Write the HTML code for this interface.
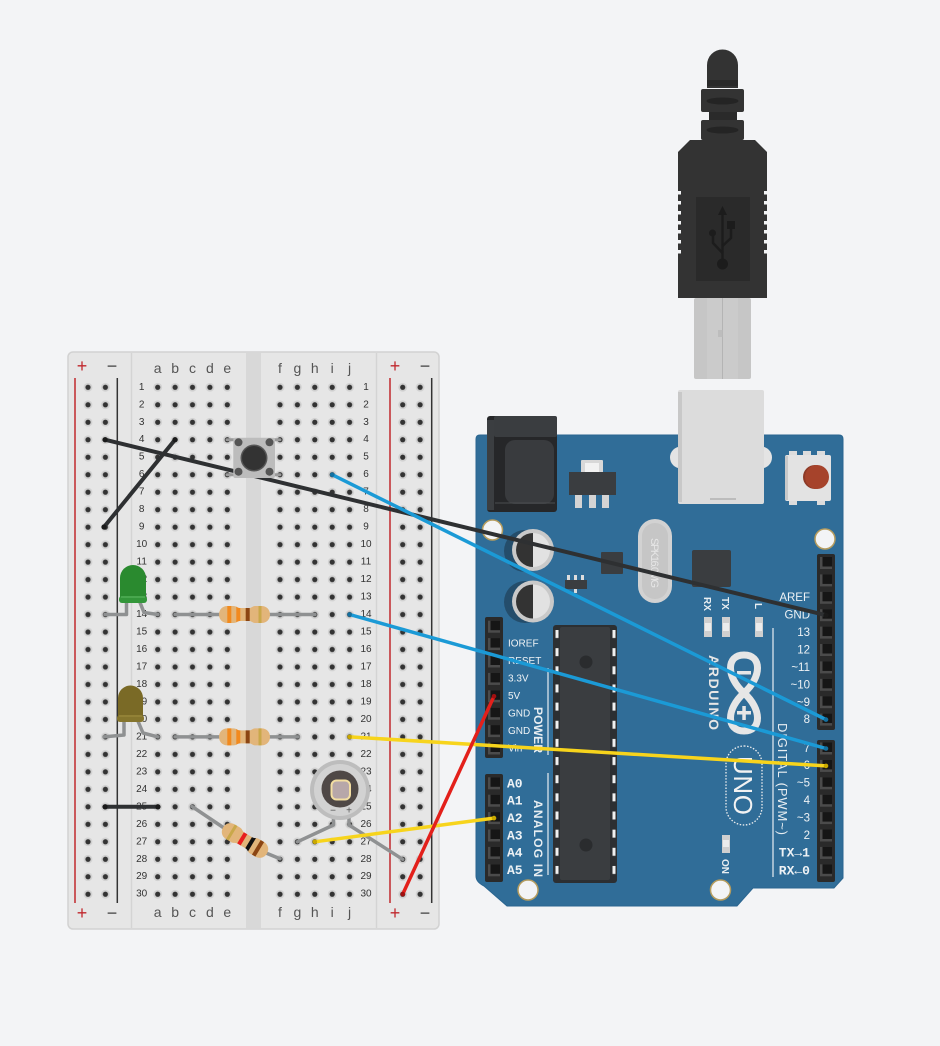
<!DOCTYPE html>
<html><head><meta charset="utf-8"><style>
html,body{margin:0;padding:0;background:#f3f4f6;}
svg{display:block;}
</style></head><body>
<svg width="940" height="1046" viewBox="0 0 940 1046" xmlns="http://www.w3.org/2000/svg" font-family="'Liberation Sans', sans-serif">
<defs>
  <pattern id="holeA" patternUnits="userSpaceOnUse" x="149" y="378.56" width="17.4" height="17.48"><circle cx="8.7" cy="8.74" r="4.4" fill="#d1d1d1"/><circle cx="8.7" cy="8.74" r="2.6" fill="#333"/></pattern>
  <pattern id="holeF" patternUnits="userSpaceOnUse" x="271.3" y="378.56" width="17.4" height="17.48"><circle cx="8.7" cy="8.74" r="4.4" fill="#d1d1d1"/><circle cx="8.7" cy="8.74" r="2.6" fill="#333"/></pattern>
  <pattern id="holeL" patternUnits="userSpaceOnUse" x="79.3" y="378.56" width="17.4" height="17.48"><circle cx="8.7" cy="8.74" r="4.4" fill="#d1d1d1"/><circle cx="8.7" cy="8.74" r="2.6" fill="#333"/></pattern>
  <pattern id="holeR" patternUnits="userSpaceOnUse" x="394" y="378.56" width="17.4" height="17.48"><circle cx="8.7" cy="8.74" r="4.4" fill="#d1d1d1"/><circle cx="8.7" cy="8.74" r="2.6" fill="#333"/></pattern>
  <pattern id="chippin" patternUnits="userSpaceOnUse" x="555" y="630" width="61" height="18.15"><rect x="0.5" y="0" width="3" height="8" fill="#f0f0f0"/><rect x="57.5" y="0" width="3" height="8" fill="#f0f0f0"/></pattern>
  <g id="pin"><rect x="-6" y="-6" width="12" height="12" fill="#4b4b4b"/><rect x="-3.5" y="-6" width="9.5" height="9.5" fill="#161616"/></g>
  <clipPath id="resclip"><path d="M-25.5 0 C-25.5 -5 -22 -8.5 -17 -8.5 L-11 -8.5 C-8 -8.5 -7 -6.5 -5 -6.5 L5 -6.5 C7 -6.5 8 -8.5 11 -8.5 L17 -8.5 C22 -8.5 25.5 -5 25.5 0 C25.5 5 22 8.5 17 8.5 L11 8.5 C8 8.5 7 6.5 5 6.5 L-5 6.5 C-7 6.5 -8 8.5 -11 8.5 L-17 8.5 C-22 8.5 -25.5 5 -25.5 0 Z"/></clipPath>
  <g id="resA">
    <g clip-path="url(#resclip)">
      <rect x="-26" y="-9" width="52" height="18" fill="#e2b57a"/>
      <rect x="-17.2" y="-9" width="4" height="18" fill="#f28a1e"/>
      <rect x="-8.2" y="-9" width="4" height="18" fill="#f28a1e"/>
      <rect x="1.2" y="-9" width="4" height="18" fill="#8b4513"/>
      <rect x="14" y="-9" width="3" height="18" fill="#c9a84a"/>
    </g>
  </g>
  <g id="resB">
    <g clip-path="url(#resclip)">
      <rect x="-26" y="-9" width="52" height="18" fill="#e2b57a"/>
      <rect x="-17" y="-9" width="3" height="18" fill="#c9a84a"/>
      <rect x="-5.2" y="-9" width="4" height="18" fill="#e81e1e"/>
      <rect x="4.2" y="-9" width="4" height="18" fill="#111"/>
      <rect x="13.2" y="-9" width="4" height="18" fill="#8b4513"/>
    </g>
  </g>
</defs>

<rect width="940" height="1046" fill="#f3f4f6"/>

<!-- ================= BREADBOARD ================= -->
<rect x="68" y="352" width="371" height="577" rx="5" fill="#e6e6e6" stroke="#d2d2d2" stroke-width="1.5"/>
<rect x="246" y="353" width="15" height="575" fill="#d8d8d8"/>
<line x1="131.5" y1="353" x2="131.5" y2="928" stroke="#d4d4d4" stroke-width="1.5"/>
<line x1="376.5" y1="353" x2="376.5" y2="928" stroke="#d4d4d4" stroke-width="1.5"/>
<line x1="75" y1="378" x2="75" y2="903" stroke="#c0282d" stroke-width="1.5"/>
<line x1="117.3" y1="378" x2="117.3" y2="903" stroke="#333" stroke-width="1.5"/>
<line x1="390" y1="378" x2="390" y2="903" stroke="#c0282d" stroke-width="1.5"/>
<line x1="431.7" y1="378" x2="431.7" y2="903" stroke="#333" stroke-width="1.5"/>

<rect x="149" y="378.56" width="87" height="524.4" fill="url(#holeA)"/>
<rect x="271.3" y="378.56" width="87" height="524.4" fill="url(#holeF)"/>
<rect x="79.3" y="378.56" width="34.8" height="524.4" fill="url(#holeL)"/>
<rect x="394" y="378.56" width="34.8" height="524.4" fill="url(#holeR)"/>

<g font-size="18" text-anchor="middle" dominant-baseline="central">
  <text x="82" y="366" fill="#c0282d">+</text><text x="112" y="366" fill="#444">−</text>
  <text x="395" y="366" fill="#c0282d">+</text><text x="425" y="366" fill="#444">−</text>
  <text x="82" y="913" fill="#c0282d">+</text><text x="112" y="913" fill="#444">−</text>
  <text x="395" y="913" fill="#c0282d">+</text><text x="425" y="913" fill="#444">−</text>
</g>
<g font-size="14" text-anchor="middle" dominant-baseline="central" fill="#555">
  <text x="157.7" y="368">a</text><text x="175.1" y="368">b</text><text x="192.5" y="368">c</text><text x="209.9" y="368">d</text><text x="227.3" y="368">e</text>
  <text x="280" y="368">f</text><text x="297.4" y="368">g</text><text x="314.8" y="368">h</text><text x="332.2" y="368">i</text><text x="349.6" y="368">j</text>
  <text x="157.7" y="912">a</text><text x="175.1" y="912">b</text><text x="192.5" y="912">c</text><text x="209.9" y="912">d</text><text x="227.3" y="912">e</text>
  <text x="280" y="912">f</text><text x="297.4" y="912">g</text><text x="314.8" y="912">h</text><text x="332.2" y="912">i</text><text x="349.6" y="912">j</text>
</g>
<g font-size="10" text-anchor="middle" dominant-baseline="central" fill="#333">
  <text x="141.7" y="387.3">1</text><text x="141.7" y="404.8">2</text><text x="141.7" y="422.3">3</text><text x="141.7" y="439.7">4</text><text x="141.7" y="457.2">5</text>
  <text x="141.7" y="474.7">6</text><text x="141.7" y="492.2">7</text><text x="141.7" y="509.7">8</text><text x="141.7" y="527.1">9</text><text x="141.7" y="544.6">10</text>
  <text x="141.7" y="562.1">11</text><text x="141.7" y="579.6">12</text><text x="141.7" y="597.1">13</text><text x="141.7" y="614.5">14</text><text x="141.7" y="632">15</text>
  <text x="141.7" y="649.5">16</text><text x="141.7" y="667">17</text><text x="141.7" y="684.5">18</text><text x="141.7" y="701.9">19</text><text x="141.7" y="719.4">20</text>
  <text x="141.7" y="736.9">21</text><text x="141.7" y="754.4">22</text><text x="141.7" y="771.9">23</text><text x="141.7" y="789.3">24</text><text x="141.7" y="806.8">25</text>
  <text x="141.7" y="824.3">26</text><text x="141.7" y="841.8">27</text><text x="141.7" y="859.3">28</text><text x="141.7" y="876.7">29</text><text x="141.7" y="894.2">30</text>
  <text x="366" y="387.3">1</text><text x="366" y="404.8">2</text><text x="366" y="422.3">3</text><text x="366" y="439.7">4</text><text x="366" y="457.2">5</text>
  <text x="366" y="474.7">6</text><text x="366" y="492.2">7</text><text x="366" y="509.7">8</text><text x="366" y="527.1">9</text><text x="366" y="544.6">10</text>
  <text x="366" y="562.1">11</text><text x="366" y="579.6">12</text><text x="366" y="597.1">13</text><text x="366" y="614.5">14</text><text x="366" y="632">15</text>
  <text x="366" y="649.5">16</text><text x="366" y="667">17</text><text x="366" y="684.5">18</text><text x="366" y="701.9">19</text><text x="366" y="719.4">20</text>
  <text x="366" y="736.9">21</text><text x="366" y="754.4">22</text><text x="366" y="771.9">23</text><text x="366" y="789.3">24</text><text x="366" y="806.8">25</text>
  <text x="366" y="824.3">26</text><text x="366" y="841.8">27</text><text x="366" y="859.3">28</text><text x="366" y="876.7">29</text><text x="366" y="894.2">30</text>
</g>

<!-- ================= USB CABLE ================= -->
<path d="M707 88 L707 65 A15.5 15.5 0 0 1 738 65 L738 88 Z" fill="#333"/>
<rect x="707" y="80" width="31" height="6" fill="#292929"/>
<rect x="701" y="89" width="43" height="23" rx="2" fill="#333"/>
<ellipse cx="722.5" cy="101" rx="16" ry="3.5" fill="#242424"/>
<rect x="709" y="112" width="28" height="9" fill="#2a2a2a"/>
<rect x="701" y="120" width="43" height="20" rx="2" fill="#333"/>
<ellipse cx="722.5" cy="130" rx="16" ry="3.5" fill="#242424"/>
<path d="M690 140 L755 140 L767 152 L767 298 L678 298 L678 152 Z" fill="#333"/>
<g fill="#f3f4f6">
  <rect x="678" y="191" width="3" height="3.5"/><rect x="678" y="201" width="3" height="3.5"/><rect x="678" y="211" width="3" height="3.5"/><rect x="678" y="221" width="3" height="3.5"/><rect x="678" y="230" width="3" height="3.5"/><rect x="678" y="240" width="3" height="3.5"/><rect x="678" y="250" width="3" height="3.5"/>
  <rect x="764" y="191" width="3" height="3.5"/><rect x="764" y="201" width="3" height="3.5"/><rect x="764" y="211" width="3" height="3.5"/><rect x="764" y="221" width="3" height="3.5"/><rect x="764" y="230" width="3" height="3.5"/><rect x="764" y="240" width="3" height="3.5"/><rect x="764" y="250" width="3" height="3.5"/>
</g>
<rect x="696" y="197" width="54" height="84" fill="#2a2a2a"/>
<g fill="#1c1c1c" stroke="#1c1c1c">
  <line x1="722.5" y1="212" x2="722.5" y2="263" stroke-width="2.5"/>
  <path d="M722.5 206 L718 215 L727 215 Z" stroke="none"/>
  <circle cx="722.5" cy="264" r="5.5" stroke="none"/>
  <polyline points="722.5,253 713,243 713,236" fill="none" stroke-width="2.5"/>
  <circle cx="712.5" cy="233" r="3.5" stroke="none"/>
  <polyline points="722.5,246 731,238 731,228" fill="none" stroke-width="2.5"/>
  <rect x="727" y="221" width="8" height="8" stroke="none"/>
</g>
<rect x="694" y="298" width="57" height="81" rx="2" fill="#c6c6c6"/>
<rect x="707" y="298" width="31" height="81" fill="#cbcbcb"/>
<line x1="722.5" y1="298" x2="722.5" y2="379" stroke="#b4b4b4" stroke-width="1"/>
<rect x="718" y="330" width="4.5" height="7" fill="#bdbdbd"/>

<!-- ================= ARDUINO ================= -->
<path d="M480 435 L839 435 Q843 435 843 439 L843 878 L834 888 L753 888 L737 906 L507 906 L484 886 Q476 882 476 876 L476 439 Q476 435 480 435 Z" fill="#306d98" stroke="#2a6590" stroke-width="1"/>

<!-- power jack -->
<rect x="487" y="416" width="70" height="96" rx="3" fill="#262729"/>
<rect x="487" y="420" width="7" height="90" fill="#3b3e41"/>
<rect x="494" y="416" width="63" height="21" rx="2" fill="#3a3d40"/>
<rect x="505" y="440" width="49" height="64" rx="10" fill="#393b3e"/>
<line x1="495" y1="503" x2="555" y2="503" stroke="#4a4d50" stroke-width="1"/>

<!-- regulator -->
<rect x="581" y="460" width="22" height="13" rx="1" fill="#d8d8d8"/>
<rect x="585" y="463" width="14" height="9" fill="#f2f2f2"/>
<rect x="569" y="472" width="47" height="23" fill="#3a3d40"/>
<rect x="575" y="495" width="7" height="13" fill="#d4d4d4"/>
<rect x="589" y="495" width="7" height="13" fill="#d4d4d4"/>
<rect x="602" y="495" width="7" height="13" fill="#d4d4d4"/>

<!-- USB port -->
<circle cx="681" cy="457.5" r="11" fill="#e4e4e4"/>
<circle cx="761" cy="457.5" r="11" fill="#e4e4e4"/>
<rect x="678" y="390" width="86" height="114" rx="2" fill="#dcdcdc"/>
<rect x="678" y="392" width="4" height="110" fill="#c8c8c8"/>
<line x1="710" y1="499" x2="736" y2="499" stroke="#a8a8a8" stroke-width="1.2"/>

<!-- reset button -->
<rect x="789" y="451" width="8" height="5" fill="#dcdcdc"/><rect x="803" y="451" width="8" height="5" fill="#dcdcdc"/><rect x="817" y="451" width="8" height="5" fill="#dcdcdc"/>
<rect x="789" y="500" width="8" height="5" fill="#dcdcdc"/><rect x="817" y="500" width="8" height="5" fill="#dcdcdc"/>
<rect x="785" y="455" width="46" height="46" rx="2" fill="#e3e3e3"/>
<rect x="785" y="456" width="3" height="44" fill="#c9c9c9"/>
<circle cx="815" cy="477" r="12" fill="#8c3a27"/>
<circle cx="817" cy="477" r="12" fill="#a6432b"/>

<!-- mounting holes -->
<g fill="#f3f4f6" stroke="#b59c5e" stroke-width="1.5">
  <circle cx="492.5" cy="530" r="10"/>
  <circle cx="825" cy="539" r="10"/>
  <circle cx="528" cy="890" r="10"/>
  <circle cx="720.5" cy="890" r="10"/>
</g>

<!-- capacitors -->
<circle cx="525" cy="551" r="21" fill="#244d6b"/>
<circle cx="533" cy="550" r="21" fill="#c9c9c9"/>
<path d="M533 533 A17 17 0 0 0 533 567 Z" fill="#333"/>
<path d="M533 533 A17 17 0 0 1 533 567 Z" fill="#e2e2e2"/>
<circle cx="525" cy="602" r="21" fill="#244d6b"/>
<circle cx="533" cy="601.5" r="21" fill="#c9c9c9"/>
<path d="M533 584.5 A17 17 0 0 0 533 618.5 Z" fill="#333"/>
<path d="M533 584.5 A17 17 0 0 1 533 618.5 Z" fill="#e2e2e2"/>

<!-- small parts -->
<rect x="567" y="575" width="3" height="6" fill="#ddd"/><rect x="574" y="575" width="3" height="6" fill="#ddd"/><rect x="581" y="575" width="3" height="6" fill="#ddd"/>
<rect x="574" y="588" width="3" height="5" fill="#ddd"/>
<rect x="565" y="580" width="22" height="9" fill="#3a3d40"/>
<rect x="601" y="552" width="22" height="22" rx="1" fill="#3a3d40"/>
<rect x="638" y="519" width="34" height="84" rx="17" fill="#d2d2d2"/>
<rect x="642" y="523" width="26" height="76" rx="13" fill="#c6c6c6"/>
<text transform="translate(651,538) rotate(90)" font-size="11" fill="#e6e6e6" textLength="50">SPK16.0MG</text>
<rect x="692" y="550" width="39" height="37" rx="2" fill="#3a3d40"/>

<!-- LEDs labels -->
<g font-size="10" font-weight="bold" fill="#e8eef2">
  <text transform="translate(704,597) rotate(90)">RX</text>
  <text transform="translate(722,597) rotate(90)">TX</text>
  <text transform="translate(755,603) rotate(90)">L</text>
  <text transform="translate(722,859) rotate(90)">ON</text>
</g>
<g fill="#cfcfcf">
  <rect x="704" y="617" width="8" height="20"/><rect x="722" y="617" width="8" height="20"/><rect x="755" y="617" width="8" height="20"/>
  <rect x="722" y="835" width="8" height="18"/>
</g>
<g fill="#ececec">
  <rect x="705" y="623" width="6" height="8"/><rect x="723" y="623" width="6" height="8"/><rect x="756" y="623" width="6" height="8"/>
  <rect x="723" y="840" width="6" height="7"/>
</g>

<!-- main chip -->
<rect x="553" y="625" width="64" height="258" rx="3" fill="#2c2f32"/>
<rect x="560" y="627" width="50" height="253" rx="2" fill="#3a3d40"/>
<rect x="555" y="630" width="61" height="254" fill="url(#chippin)"/>
<circle cx="586" cy="662" r="6.5" fill="#2a2c2e"/>
<circle cx="586" cy="845" r="6.5" fill="#2a2c2e"/>

<!-- logo -->
<path d="M744 693 C762 677 762 655 744 655 C726 655 726 677 744 693 C762 709 762 731 744 731 C726 731 726 709 744 693 Z" fill="none" stroke="#e6e6e6" stroke-width="7"/>
<rect x="737" y="671" width="14" height="3.5" fill="#e6e6e6"/>
<rect x="737" y="711" width="14" height="3.5" fill="#e6e6e6"/>
<rect x="742.3" y="706" width="3.5" height="14" fill="#e6e6e6"/>
<text transform="translate(709,655) rotate(90)" font-size="14" font-weight="bold" fill="#e6e6e6" textLength="75">ARDUINO</text>
<rect x="726" y="746" width="36" height="79" rx="18" fill="none" stroke="#f0f0f0" stroke-width="1.3" stroke-dasharray="1.5 1.6"/>
<text transform="translate(734,756) rotate(90)" font-size="26" fill="#f2f2f2" textLength="59">UNO</text>
<text transform="translate(778,723) rotate(90)" font-size="13" fill="#e8eef2" textLength="112">DIGITAL (PWM~)</text>
<text transform="translate(534,707) rotate(90)" font-size="12" font-weight="bold" fill="#e8eef2" textLength="46">POWER</text>
<text transform="translate(534,800) rotate(90)" font-size="12" font-weight="bold" fill="#e8eef2" textLength="77">ANALOG IN</text>
<g stroke="#e8eef2" stroke-width="1.2">
  <line x1="773" y1="628" x2="773" y2="877"/>
  <line x1="548" y1="668" x2="548" y2="755"/>
  <line x1="548" y1="773" x2="548" y2="875"/>
</g>

<!-- headers -->
<rect x="817" y="554" width="18" height="176" rx="2" fill="#2a2a2a"/>
<rect x="817" y="740" width="18" height="142" rx="2" fill="#2a2a2a"/>
<rect x="485" y="617" width="18" height="141" rx="2" fill="#2a2a2a"/>
<rect x="485" y="774" width="18" height="108" rx="2" fill="#2a2a2a"/>
<use href="#pin" x="826" y="563"/><use href="#pin" x="826" y="580.4"/><use href="#pin" x="826" y="597.8"/><use href="#pin" x="826" y="615.2"/><use href="#pin" x="826" y="632.6"/>
<use href="#pin" x="826" y="650"/><use href="#pin" x="826" y="667.4"/><use href="#pin" x="826" y="684.8"/><use href="#pin" x="826" y="702.2"/><use href="#pin" x="826" y="719.6"/>
<use href="#pin" x="826" y="748.5"/><use href="#pin" x="826" y="765.9"/><use href="#pin" x="826" y="783.3"/><use href="#pin" x="826" y="800.7"/>
<use href="#pin" x="826" y="818.1"/><use href="#pin" x="826" y="835.5"/><use href="#pin" x="826" y="852.9"/><use href="#pin" x="826" y="870.3"/>
<use href="#pin" x="494" y="626.7"/><use href="#pin" x="494" y="644.1"/><use href="#pin" x="494" y="661.5"/><use href="#pin" x="494" y="678.9"/>
<use href="#pin" x="494" y="696.3"/><use href="#pin" x="494" y="713.7"/><use href="#pin" x="494" y="731.1"/><use href="#pin" x="494" y="748.5"/>
<use href="#pin" x="494" y="783.3"/><use href="#pin" x="494" y="800.7"/><use href="#pin" x="494" y="818.1"/><use href="#pin" x="494" y="835.5"/><use href="#pin" x="494" y="852.9"/><use href="#pin" x="494" y="870.3"/>

<g font-size="11.5" fill="#eef2f5" text-anchor="end" dominant-baseline="central">
  <text x="810" y="598">AREF</text><text x="810" y="615.5">GND</text><text x="810" y="633">13</text><text x="810" y="650.5">12</text>
  <text x="810" y="668">~11</text><text x="810" y="685.5">~10</text><text x="810" y="703">~9</text><text x="810" y="720">8</text>
  <text x="810" y="749">7</text><text x="810" y="766">~6</text><text x="810" y="783.5">~5</text><text x="810" y="801">4</text>
  <text x="810" y="818.5">~3</text><text x="810" y="836">2</text>
</g>
<g font-size="13" font-family="'Liberation Mono', monospace" font-weight="bold" fill="#eef2f5" dominant-baseline="central">
  <text x="810" y="853" text-anchor="end">TX→1</text><text x="810" y="871" text-anchor="end">RX←0</text>
  <text x="507" y="784">A0</text><text x="507" y="801">A1</text><text x="507" y="818.5">A2</text>
  <text x="507" y="836">A3</text><text x="507" y="853">A4</text><text x="507" y="870.5">A5</text>
</g>
<g font-size="10" fill="#eef2f5" dominant-baseline="central">
  <text x="508" y="644">IOREF</text><text x="508" y="661.5">RESET</text><text x="508" y="679">3.3V</text><text x="508" y="696.5">5V</text>
  <text x="508" y="714">GND</text><text x="508" y="731.5">GND</text><text x="508" y="749">Vin</text>
</g>

<!-- ================= BREADBOARD COMPONENTS ================= -->
<!-- black wires (under button) -->
<line x1="104" y1="527" x2="175" y2="439.7" stroke="#2e3032" stroke-width="4" stroke-linecap="round"/>
<line x1="105" y1="806.8" x2="158" y2="806.8" stroke="#2e3032" stroke-width="4" stroke-linecap="round"/>
<line x1="105" y1="439.7" x2="826" y2="615.2" stroke="#2e3032" stroke-width="4" stroke-linecap="round"/>

<!-- pushbutton -->
<g stroke="#9a9a9a" stroke-width="3" stroke-linecap="round">
  <line x1="227" y1="439.7" x2="235" y2="439.7"/><line x1="273" y1="439.7" x2="280" y2="439.7"/>
  <line x1="227" y1="474.7" x2="235" y2="474.7"/><line x1="273" y1="474.7" x2="280" y2="474.7"/>
</g>
<rect x="233.3" y="437.7" width="41.7" height="40.3" rx="2" fill="#bcbcbc"/>
<circle cx="254" cy="458" r="13.5" fill="#555"/>
<circle cx="254" cy="458" r="12" fill="#333"/>
<g fill="#555"><circle cx="238.5" cy="442.3" r="4"/><circle cx="269.5" cy="442.3" r="4"/><circle cx="238.5" cy="471.7" r="4"/><circle cx="269.5" cy="471.7" r="4"/></g>

<!-- leads -->
<g fill="none" stroke="#8f9192" stroke-width="3.5" stroke-linecap="round" stroke-linejoin="round">
  <polyline points="126.5,600 126.5,614.5 105,614.5"/>
  <polyline points="139,600 144,612.5 158,614.5"/>
  <polyline points="124,720 124,735 104,736.9"/>
  <polyline points="137.5,720 143,733 158,736.9"/>
  <line x1="175" y1="614.5" x2="315" y2="614.5"/>
  <line x1="175" y1="736.9" x2="298" y2="736.9"/>
  <polyline points="192,806.5 224,828 266,853 280,858.7"/>
  <polyline points="333.5,818 333.5,825 297.4,841.8"/>
  <polyline points="349,818 349,825 402.7,859.3"/>
</g>

<!-- green LED -->
<path d="M120 602 L120 578 A13 13 0 0 1 146 578 L146 602 Z" fill="#2a8a2f"/>
<rect x="119" y="596" width="28" height="7" rx="3" fill="#33963a"/>
<line x1="121" y1="597" x2="145" y2="597" stroke="#5db862" stroke-width="1"/>
<!-- olive LED -->
<path d="M118 721 L118 698 A12.5 12.5 0 0 1 143 698 L143 721 Z" fill="#7a6a26"/>
<rect x="117" y="715" width="27" height="7" rx="3" fill="#85752d"/>
<line x1="119" y1="716" x2="142" y2="716" stroke="#9e8d40" stroke-width="1"/>

<!-- resistors -->
<use href="#resA" transform="translate(244.5,614.5)"/>
<use href="#resA" transform="translate(244.5,736.9)"/>
<use href="#resB" transform="translate(245,840.5) rotate(31)"/>

<!-- photoresistor -->
<circle cx="340" cy="790" r="30" fill="#bdbdbd"/>
<circle cx="340" cy="790" r="26" fill="#d2d2d2"/>
<circle cx="340" cy="789" r="18.5" fill="#4f4846"/>
<rect x="331.5" y="780.5" width="18.5" height="19" rx="5" fill="#b7a7a9" stroke="#f3dea2" stroke-width="2"/>
<text x="333" y="811" font-size="10" text-anchor="middle" dominant-baseline="central" fill="#555">−</text>
<text x="349" y="811" font-size="10" text-anchor="middle" dominant-baseline="central" fill="#555">+</text>

<!-- ================= WIRES ================= -->
<g stroke-linecap="round" fill="none">
  <line x1="332.2" y1="474.7" x2="826" y2="719.6" stroke="#1b9ad6" stroke-width="3.5"/>
  <line x1="349.6" y1="614.5" x2="826" y2="748.5" stroke="#1b9ad6" stroke-width="3.5"/>
  <line x1="349.6" y1="736.9" x2="826" y2="765.9" stroke="#f7d41c" stroke-width="3.5"/>
  <line x1="314.8" y1="841.8" x2="494" y2="818.1" stroke="#f7d41c" stroke-width="3.5"/>
  <line x1="402.7" y1="894.2" x2="494" y2="696.3" stroke="#e3201b" stroke-width="3.5"/>
</g>
<g>
  <circle cx="105" cy="439.7" r="2.6" fill="#1a1a1a"/><circle cx="826" cy="615.2" r="2.6" fill="#1a1a1a"/>
  <circle cx="104" cy="527" r="2.6" fill="#1a1a1a"/><circle cx="175" cy="439.7" r="2.6" fill="#1a1a1a"/>
  <circle cx="105" cy="806.8" r="2.6" fill="#1a1a1a"/><circle cx="158" cy="806.8" r="2.6" fill="#1a1a1a"/>
  <circle cx="332.2" cy="474.7" r="2.3" fill="#1370a0"/><circle cx="826" cy="719.6" r="2.3" fill="#1370a0"/>
  <circle cx="349.6" cy="614.5" r="2.3" fill="#1370a0"/><circle cx="826" cy="748.5" r="2.3" fill="#1370a0"/>
  <circle cx="349.6" cy="736.9" r="2.3" fill="#c9a800"/><circle cx="826" cy="765.9" r="2.3" fill="#c9a800"/>
  <circle cx="314.8" cy="841.8" r="2.3" fill="#c9a800"/><circle cx="494" cy="818.1" r="2.3" fill="#c9a800"/>
  <circle cx="402.7" cy="894.2" r="2.3" fill="#a01010"/><circle cx="494" cy="696.3" r="2.3" fill="#a01010"/>
</g>
</svg>
</body></html>
